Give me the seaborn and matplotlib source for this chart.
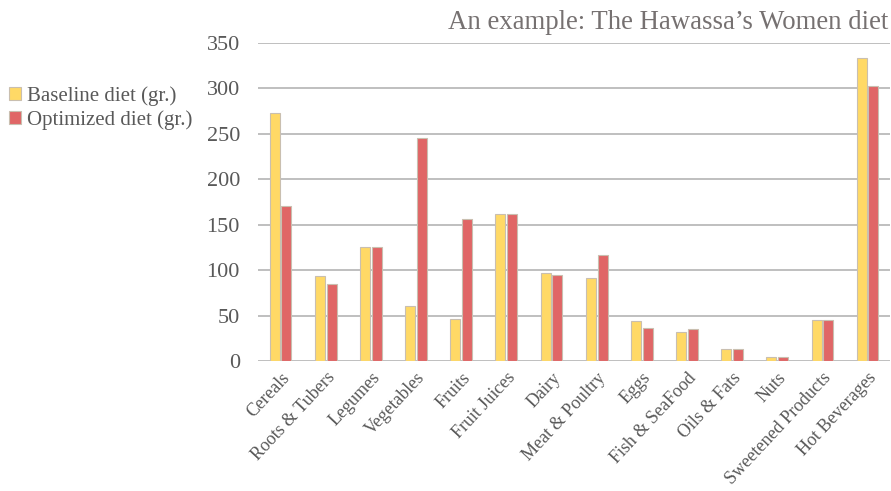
import pandas as pd
import matplotlib
matplotlib.use("Agg")
import matplotlib.pyplot as plt
import seaborn as sns

# Data
categories = ["Cereals", "Roots & Tubers", "Legumes", "Vegetables", "Fruits",
              "Fruit Juices", "Dairy", "Meat & Poultry", "Eggs", "Fish & SeaFood",
              "Oils & Fats", "Nuts", "Sweetened Products", "Hot Beverages"]
baseline = [273, 94, 125, 60, 46, 162, 97, 91, 44, 32, 13, 4, 45, 333]
optimized = [171, 85, 125, 245, 156, 162, 95, 117, 36, 35, 13, 4, 45, 303]
series_names = ["Baseline diet (gr.)", "Optimized diet (gr.)"]
y_ticks = [0, 50, 100, 150, 200, 250, 300, 350]

df = pd.DataFrame({
    "Category": categories * 2,
    "Value": baseline + optimized,
    "Series": [series_names[0]] * len(categories) + [series_names[1]] * len(categories),
})

sns.set_style("white")
plt.rcParams['font.family'] = ['Liberation Serif', 'DejaVu Serif']
text_color = "#595959"

fig = plt.figure(figsize=(8.91, 4.91), dpi=100)
ax = fig.add_axes([0.2896, 0.2648, 0.7094, 0.6476])

palette = {series_names[0]: "#FFD966", series_names[1]: "#E06666"}
sns.barplot(data=df, x="Category", y="Value", hue="Series", palette=palette,
            width=0.52, gap=0.15, edgecolor="#C9BFB0", linewidth=0.8,
            saturation=1, ax=ax, legend=True, zorder=3)

ax.set_ylim(0, 350)
ax.set_xlim(-0.5, len(categories) - 0.5)
ax.set_yticks(y_ticks)
ax.yaxis.grid(True, color="#BFBFBF", linewidth=1.4, zorder=0)
ax.set_axisbelow(True)
for s in ax.spines.values():
    s.set_visible(False)
ax.set_xlabel("")
ax.set_ylabel("")
ax.tick_params(axis="y", length=0, pad=13, labelsize=16, labelcolor=text_color)
ax.tick_params(axis="x", length=0, pad=6, labelsize=13, labelcolor=text_color)
plt.setp(ax.get_xticklabels(), rotation=47, ha="right", va="top",
         rotation_mode="anchor")

handles, labels = ax.get_legend_handles_labels()
ax.get_legend().remove()
fig.legend(handles, labels, loc="upper left", bbox_to_anchor=(-0.004, 0.85),
           frameon=False, fontsize=15, labelcolor=text_color,
           handlelength=0.6, handleheight=0.6, handletextpad=0.25,
           labelspacing=0.2, borderaxespad=0.2)

fig.text(0.997, 0.955, "An example: The Hawassa\u2019s Women diet",
         ha="right", va="center", fontsize=19.3, color="#767171")

fig.savefig("out.png", dpi=100)
